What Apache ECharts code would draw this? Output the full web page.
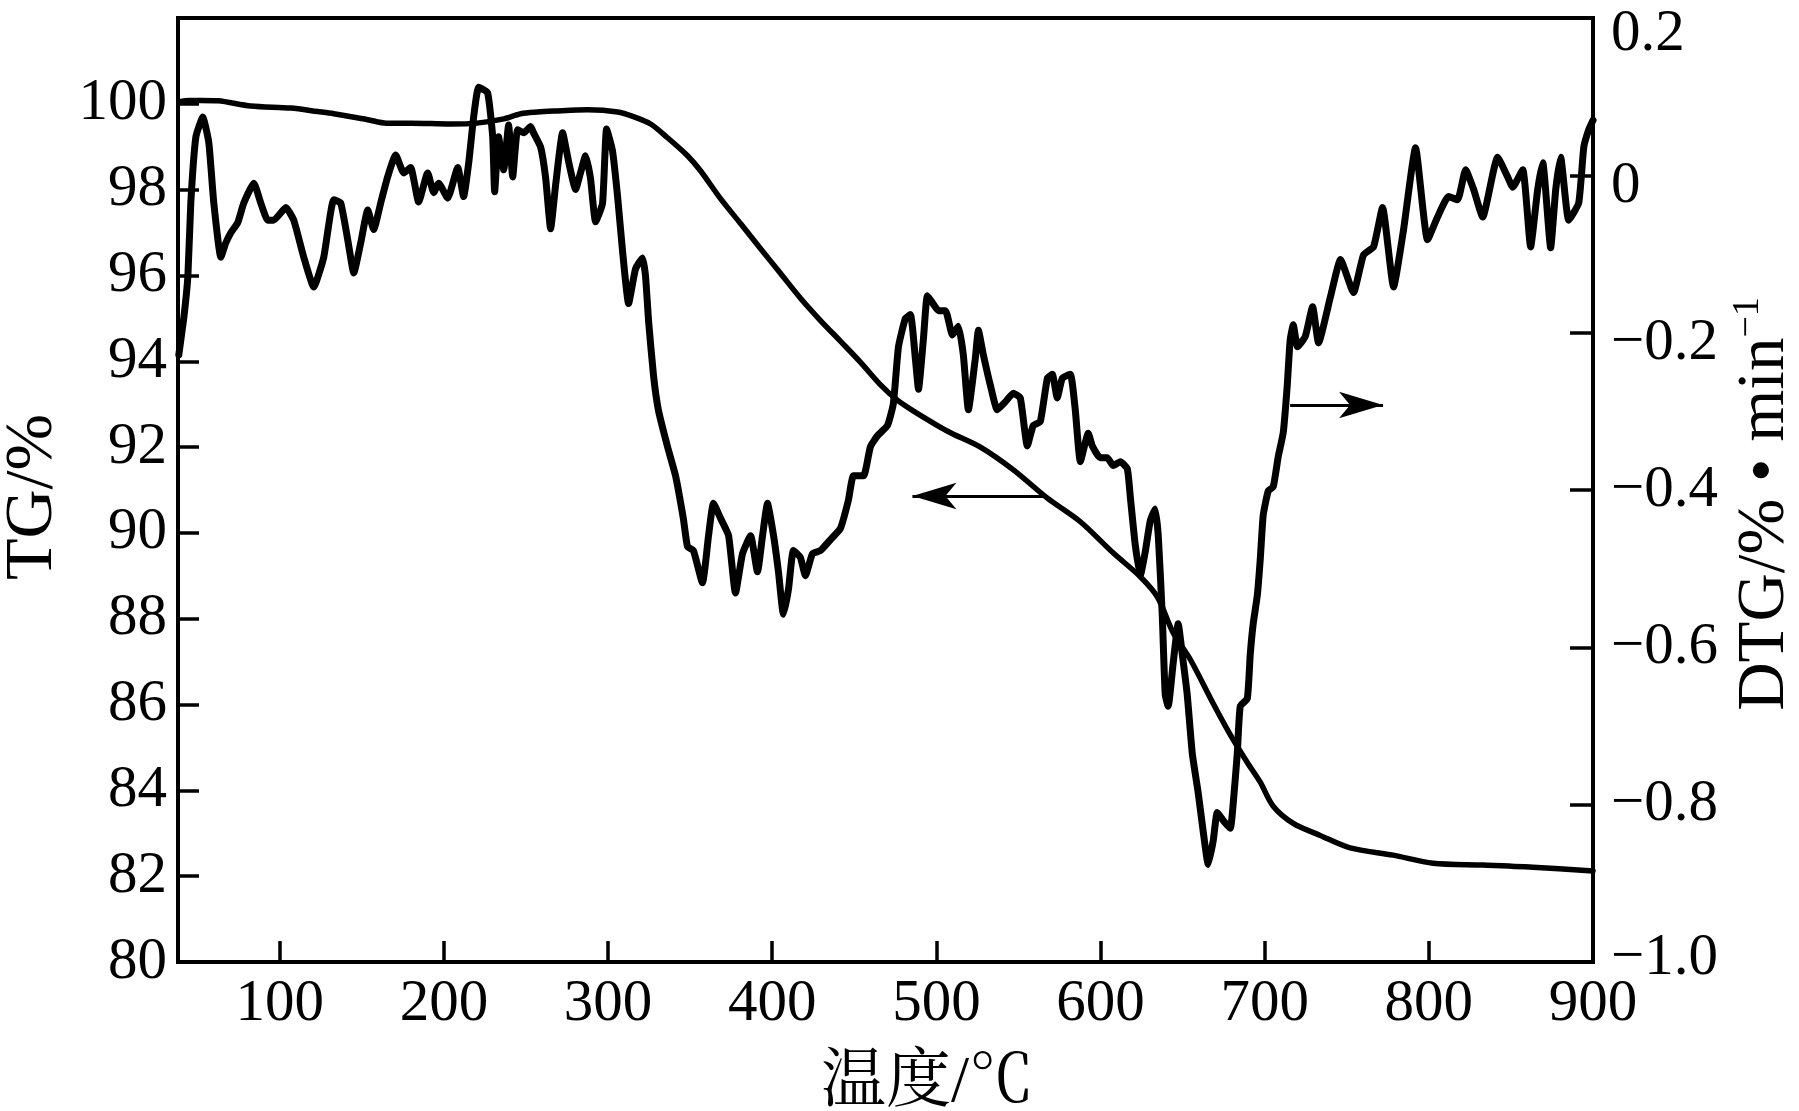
<!DOCTYPE html>
<html>
<head>
<meta charset="utf-8">
<script src="https://cdn.jsdelivr.net/npm/echarts@6/dist/echarts.min.js"></script>
<style>
html,body{margin:0;padding:0;background:#fff;}
#chart{width:1799px;height:1111px;}
</style>
</head>
<body>
<div id="chart"></div>
<script>
// ---- data ----
const xTicks = [100, 200, 300, 400, 500, 600, 700, 800, 900];
const tgTicks = [80, 82, 84, 86, 88, 90, 92, 94, 96, 98, 100];
const dtgTicks = [-1.0, -0.8, -0.6, -0.4, -0.2, 0, 0.2];

const tgT = [38.5,45,51.7,62.3,82.3,106.7,123.1,132.9,153.6,165,180,204.1,220,236.4,246.8,257.1,266.8,287.5,305.8,315.5,325.9,336.2,348.4,356.3,368.5,380.7,392.8,405.0,417.2,429.4,441.5,453.7,466.0,476,486.1,506.8,526.8,546.9,567.6,587.7,607.8,624.2,634.6,644.3,654.7,668.7,679.0,689.4,697.3,705.2,717.4,733.8,752.1,778.2,802.6,833.1,863.5,900];
const tgV = [100.05,100.08,100.08,100.07,99.95,99.90,99.82,99.77,99.63,99.55,99.55,99.53,99.55,99.65,99.77,99.81,99.83,99.86,99.81,99.70,99.53,99.21,98.79,98.44,97.79,97.21,96.63,96.05,95.47,94.95,94.47,93.98,93.45,93.10,92.84,92.37,92.00,91.47,90.81,90.26,89.53,88.98,88.51,87.67,87.05,86.02,85.30,84.65,84.19,83.63,83.23,82.95,82.66,82.49,82.30,82.26,82.21,82.12];

const dtgT = [38.5,41.6,44.0,45.8,48.9,53.1,56.8,59.8,64.1,67.1,70.2,74.4,78.1,84.2,88.4,92.7,96.3,103.7,108.5,114.6,120.7,126.8,132.9,137.1,141.4,145.1,149.3,153.6,157.2,161.5,165.7,170.6,175.5,179.7,184.6,190.1,193.8,196.8,202.3,208.4,212.0,215.1,218.1,221.2,226.6,229.7,230.9,233.3,236.4,239.4,241.9,244.9,248.6,252.8,254.6,258.9,262.0,265.0,268.0,272.3,275.9,280.2,283.3,286.3,289.3,292.4,296.6,299.1,302.7,305.8,308.8,312.5,316.7,321.0,322.8,324.7,327.7,330.7,336.2,341.1,345.9,348.4,352.0,357.5,361.2,364.2,368.5,373.4,377.6,381.9,386.8,391.0,394.1,397.1,400.8,403.8,406.8,409.9,412.9,417.2,420.2,424.5,429.4,435.5,441.5,446.4,449.5,455.6,459.8,464.1,470.2,473.8,476.9,481.1,484.2,487.2,489.1,492.1,494.5,497.6,501.2,505.5,509.8,513.4,516.4,519.5,523.7,525.6,528.6,532.9,537.1,542.0,546.9,551.1,555.4,559.0,563.3,567.6,570.6,573.6,576.7,581.6,584.6,587.7,592.5,595.0,599.8,604.1,607.7,612.0,616.3,618.1,621.1,624.2,627.2,630.3,633.3,635.2,637.6,639.4,641.2,644.3,647.3,649.8,652.8,655.9,659.5,662.6,665.6,668.7,671.1,674.7,679.0,680.8,683.3,685.1,689.4,691.2,693.0,695.5,697.3,699.1,702.2,705.2,708.3,711.3,713.7,715.5,717.4,720.0,724.7,729.2,732.8,740.1,746.2,754.1,760.2,766.3,771.8,778.5,784.6,791.9,799.2,805.3,812.0,817.5,822.4,827.3,832.8,841.9,848.0,851.1,857.2,862.0,866.3,869.4,874.2,877.3,880.3,885.2,891.3,894.4,897.4,900];
const dtgV = [-0.228,-0.180,-0.129,-0.035,0.049,0.074,0.041,-0.035,-0.104,-0.086,-0.073,-0.060,-0.035,-0.010,-0.035,-0.057,-0.057,-0.041,-0.057,-0.104,-0.142,-0.104,-0.031,-0.035,-0.082,-0.124,-0.086,-0.044,-0.069,-0.035,-0.002,0.026,0.003,0.010,-0.034,0.003,-0.022,-0.010,-0.029,0.010,-0.027,0.016,0.074,0.112,0.105,0.049,-0.021,0.049,0.007,0.064,-0.002,0.058,0.054,0.062,0.054,0.036,-0.004,-0.068,-0.013,0.054,0.018,-0.018,0.004,0.025,-0.004,-0.059,-0.036,0.059,0.031,-0.027,-0.096,-0.163,-0.119,-0.105,-0.128,-0.186,-0.255,-0.299,-0.345,-0.382,-0.437,-0.472,-0.477,-0.518,-0.458,-0.417,-0.436,-0.458,-0.531,-0.481,-0.458,-0.504,-0.458,-0.417,-0.458,-0.504,-0.558,-0.526,-0.477,-0.486,-0.509,-0.481,-0.477,-0.463,-0.449,-0.413,-0.382,-0.382,-0.345,-0.331,-0.318,-0.290,-0.218,-0.182,-0.177,-0.233,-0.272,-0.208,-0.153,-0.162,-0.172,-0.172,-0.203,-0.192,-0.228,-0.298,-0.233,-0.197,-0.228,-0.267,-0.298,-0.288,-0.277,-0.283,-0.344,-0.318,-0.313,-0.258,-0.253,-0.283,-0.258,-0.253,-0.298,-0.364,-0.328,-0.344,-0.359,-0.359,-0.369,-0.364,-0.373,-0.408,-0.469,-0.509,-0.479,-0.439,-0.424,-0.459,-0.559,-0.660,-0.675,-0.619,-0.570,-0.609,-0.660,-0.735,-0.785,-0.835,-0.876,-0.845,-0.810,-0.820,-0.830,-0.799,-0.735,-0.675,-0.665,-0.609,-0.570,-0.534,-0.488,-0.432,-0.401,-0.396,-0.357,-0.327,-0.268,-0.210,-0.190,-0.218,-0.205,-0.167,-0.213,-0.154,-0.107,-0.149,-0.101,-0.091,-0.041,-0.142,-0.069,0.035,-0.082,-0.053,-0.027,-0.031,0.007,-0.018,-0.053,0.023,-0.002,-0.015,0.007,-0.091,-0.018,0.016,-0.092,-0.018,0.023,-0.057,-0.035,0.036,0.058,0.070];

// ---- chart ----
const serif = "'Liberation Serif','Times New Roman',serif";
const cjk = "'Liberation Serif','Noto Serif CJK SC','Noto Sans CJK SC',serif";
const chart = echarts.init(document.getElementById('chart'), null, {renderer: 'canvas'});

// label text for the right axis; the original figure sets the upper labels slightly below their ticks
function dtgLabel(v) {
  const r = Math.round(v * 10) / 10;
  let txt;
  if (r === 0) txt = '0';
  else if (r < 0) txt = '\u2212' + Math.abs(r).toFixed(1);
  else txt = r.toFixed(1);
  let cls = 'c';
  if (r > 0.1) cls = 'd16';
  else if (r > -0.3) cls = 'd11';
  else if (r < -0.9) cls = 'u4';
  return '{' + cls + '|' + txt + '}';
}
const lbl = {color: '#000', fontSize: 59, fontFamily: serif};

const axisLineStyle = {color: '#000', width: 4};
const tickStyle = {color: '#000', width: 3.5};

chart.setOption({
  animation: false,
  backgroundColor: '#fff',
  grid: {left: 178, right: 206, top: 18, bottom: 149, show: true, borderColor: '#000', borderWidth: 4,
         backgroundColor: 'transparent', containLabel: false, outerBoundsMode: 'none'},
  xAxis: {
    type: 'value', min: 38, max: 900,
    axisLine: {show: true, onZero: false, lineStyle: axisLineStyle},
    axisTick: {show: true, inside: true, length: 21, lineStyle: tickStyle, customValues: xTicks},
    axisLabel: {color: '#000', fontSize: 59, fontFamily: serif, margin: 13, customValues: xTicks},
    splitLine: {show: false},
    name: '温度/℃', nameLocation: 'middle', nameGap: 89,
    nameTextStyle: {color: '#000', fontSize: 65, fontFamily: cjk, padding: [0, 0, 0, 84]}
  },
  yAxis: [
    {
      type: 'value', min: 80, max: 102, position: 'left',
      axisLine: {show: true, onZero: false, lineStyle: axisLineStyle},
      axisTick: {show: true, inside: true, length: 21, lineStyle: tickStyle, customValues: tgTicks},
      axisLabel: {color: '#000', fontSize: 59, fontFamily: serif, margin: 11, customValues: tgTicks},
      splitLine: {show: false},
      name: 'TG/%', nameLocation: 'middle', nameRotate: 90, nameGap: 101,
      nameTextStyle: {color: '#000', fontSize: 68, fontFamily: serif, padding: [0, 14, 0, 0]}
    },
    {
      type: 'value', min: -1.0, max: 0.2, position: 'right',
      axisLine: {show: true, onZero: false, lineStyle: axisLineStyle},
      axisTick: {show: true, inside: true, length: 23, lineStyle: tickStyle, customValues: dtgTicks},
      axisLabel: {
        color: '#000', fontSize: 59, fontFamily: serif, margin: 18, customValues: dtgTicks, formatter: dtgLabel,
        rich: {
          c: Object.assign({}, lbl),
          d16: Object.assign({padding: [32, 0, 0, 0]}, lbl),
          d11: Object.assign({padding: [22, 0, 0, 0]}, lbl),
          u4: Object.assign({padding: [0, 0, 8, 0]}, lbl)
        }
      },
      splitLine: {show: false},
      name: '{a|DTG/% \u2022 min}{s|\u22121}', nameLocation: 'middle', nameRotate: 90, nameGap: 128,
      nameTextStyle: {
        color: '#000', fontSize: 67, fontFamily: serif, padding: [0, 28, 0, 0],
        rich: {
          a: {color: '#000', fontSize: 67, fontFamily: serif, lineHeight: 72},
          s: {color: '#000', fontSize: 38, fontFamily: serif, verticalAlign: 'top', lineHeight: 72}
        }
      }
    }
  ],
  series: [
    {
      name: 'TG', type: 'line', yAxisIndex: 0, smooth: 0.3, symbol: 'none',
      data: tgT.map((t, i) => [t, tgV[i]]),
      lineStyle: {color: '#000', width: 5.5, join: 'round', cap: 'round'},
      markLine: {
        silent: true, animation: false, symbol: ['none', 'arrow'], symbolSize: [20, 44],
        lineStyle: {color: '#000', width: 3, type: 'solid'},
        label: {show: false}, emphasis: {disabled: true},
        data: [[{coord: [565.1, 90.86]}, {coord: [485.4, 90.86]}]]
      }
    },
    {
      name: 'DTG', type: 'line', yAxisIndex: 1, smooth: 0.15, symbol: 'none',
      data: dtgT.map((t, i) => [t, dtgV[i]]),
      lineStyle: {color: '#000', width: 7, join: 'round', cap: 'round'},
      markLine: {
        silent: true, animation: false, symbol: ['none', 'arrow'], symbolSize: [20, 44],
        lineStyle: {color: '#000', width: 3, type: 'solid'},
        label: {show: false}, emphasis: {disabled: true},
        data: [[{coord: [715.5, -0.292]}, {coord: [772.1, -0.292]}]]
      }
    }
  ]
});
</script>
</body>
</html>
